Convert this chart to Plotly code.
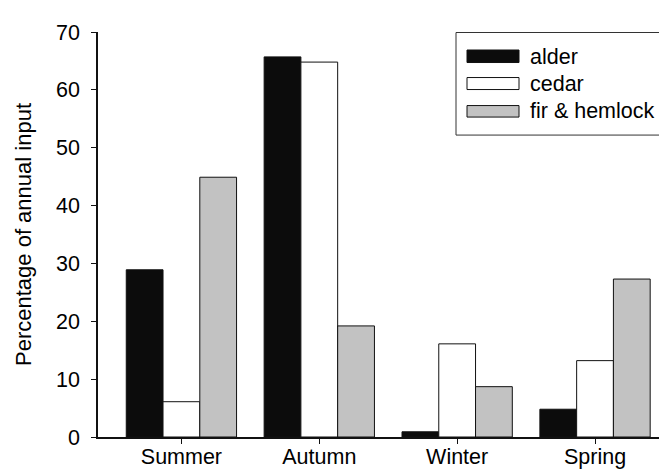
import plotly.graph_objects as go

seasons = ["Summer", "Autumn", "Winter", "Spring"]
alder = [28.9, 65.7, 0.9, 4.8]
cedar = [6.1, 64.8, 16.1, 13.2]
fir_hemlock = [44.9, 19.2, 8.7, 27.3]
series_names = ["alder", "cedar", "fir & hemlock"]
series_colors = ["#0c0c0c", "#ffffff", "#c2c2c2"]
y_ticks = [0, 10, 20, 30, 40, 50, 60, 70]

W, H = 667, 469
L, R, T, B = 90, 0, 24, 40.3
pw, ph = W - L - R, H - T - B

fig = go.Figure()
for name, vals, col in zip(series_names, [alder, cedar, fir_hemlock], series_colors):
    fig.add_trace(go.Bar(
        x=seasons, y=vals, name=name,
        marker=dict(color=col, line=dict(color="#111111", width=1)),
        showlegend=False,
    ))

def px(x):
    return (x - L) / pw

def py(y):
    return (H - B - y) / ph

shapes = []
annotations = []
# legend box
shapes.append(dict(type="rect", xref="paper", yref="paper",
                   x0=px(448), x1=px(666), y0=py(127), y1=py(24.5),
                   line=dict(color="#333333", width=1), fillcolor="white", layer="above"))
sw_y = [(42, 54.5), (69.5, 81.5), (97.5, 109)]
txt_y = [48.5, 75.5, 103]
for (a, b), ty, name, col in zip(sw_y, txt_y, series_names, series_colors):
    shapes.append(dict(type="rect", xref="paper", yref="paper",
                       x0=px(459), x1=px(511), y0=py(b), y1=py(a),
                       line=dict(color="#111111", width=1), fillcolor=col, layer="above"))
    annotations.append(dict(xref="paper", yref="paper", x=px(520), y=py(ty),
                            text=name, showarrow=False, xanchor="left", yanchor="middle",
                            font=dict(size=21.5, color="black")))

fig.update_layout(
    width=W, height=H,
    margin=dict(l=L, r=R, t=T, b=B, pad=0),
    paper_bgcolor="white", plot_bgcolor="white",
    barmode="group", bargap=0.2, bargroupgap=0,
    font=dict(family="Liberation Sans, Arial, sans-serif", color="black"),
    shapes=shapes, annotations=annotations,
    xaxis=dict(type="category", range=[-0.605, 3.58], showgrid=False, zeroline=False,
               showline=True, linecolor="#111111", linewidth=1.5,
               ticks="outside", ticklen=5, tickcolor="#111111",
               tickfont=dict(size=21.5), ticklabelstandoff=-6),
    yaxis=dict(range=[0, 70], tickvals=y_ticks, showgrid=False, zeroline=False,
               showline=True, linecolor="#111111", linewidth=1.5,
               ticks="outside", ticklen=5, tickcolor="#111111",
               tickfont=dict(size=21.5), ticklabelstandoff=7,
               title=dict(text="Percentage of annual input", font=dict(size=22), standoff=18)),
)

fig.write_html("out.html")
